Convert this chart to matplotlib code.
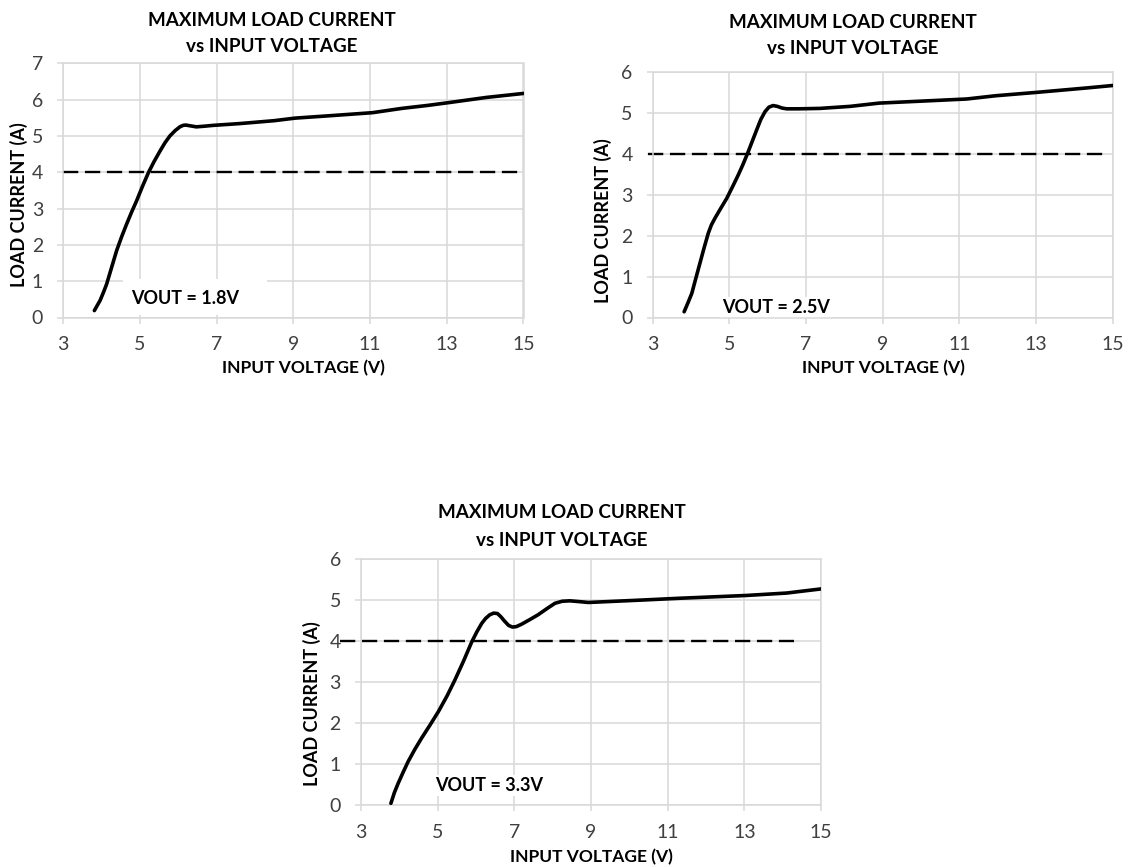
import matplotlib.pyplot as plt
from matplotlib.patches import Rectangle

plt.rcParams['font.family'] = ['Lato', 'DejaVu Sans']
plt.rcParams['lines.scale_dashes'] = False

W, H = 1129, 867
GRID = '#d9d9d9'

# max load current vs input voltage, one curve per output voltage
vin_18 = [3.81, 3.90, 3.96, 4.05, 4.13, 4.26, 4.39, 4.52, 4.65, 4.78, 4.91, 5.06,
          5.22, 5.37, 5.52, 5.65, 5.78, 5.92, 6.04, 6.12, 6.19, 6.30, 6.47, 6.70,
          6.90, 7.60, 8.50, 9.04, 10.0, 11.06, 11.84, 12.5, 13.07, 14.03, 15.0]
iload_18 = [0.19, 0.36, 0.47, 0.70, 0.92, 1.38, 1.84, 2.22, 2.57, 2.90, 3.21, 3.60,
            3.99, 4.30, 4.58, 4.81, 5.00, 5.15, 5.25, 5.29, 5.30, 5.28, 5.25, 5.27,
            5.29, 5.34, 5.42, 5.49, 5.56, 5.64, 5.76, 5.84, 5.92, 6.06, 6.17]

vin_25 = [3.82, 3.92, 4.02, 4.12, 4.23, 4.34, 4.45, 4.53, 4.62, 4.77, 4.93, 5.08,
          5.23, 5.35, 5.47, 5.59, 5.71, 5.82, 5.93, 6.03, 6.14, 6.25, 6.37, 6.49,
          6.80, 7.36, 8.15, 8.91, 10.05, 11.19, 11.95, 12.99, 14.32, 15.0]
iload_25 = [0.14, 0.36, 0.59, 0.94, 1.32, 1.70, 2.06, 2.26, 2.42, 2.66, 2.91, 3.19,
            3.48, 3.73, 4.00, 4.29, 4.58, 4.84, 5.03, 5.14, 5.18, 5.16, 5.12, 5.10,
            5.10, 5.11, 5.16, 5.24, 5.29, 5.34, 5.42, 5.50, 5.61, 5.67]

vin_33 = [3.78, 3.87, 3.97, 4.10, 4.23, 4.40, 4.58, 4.80, 5.02, 5.25, 5.45, 5.67,
          5.89, 6.02, 6.15, 6.25, 6.36, 6.46, 6.56, 6.65, 6.75, 6.85, 6.95, 7.05,
          7.19, 7.40, 7.62, 7.85, 8.06, 8.25, 8.45, 8.70, 8.93, 10.36, 11.25, 13.04,
          14.11, 14.64, 15.0]
iload_33 = [0.04, 0.30, 0.53, 0.80, 1.06, 1.35, 1.63, 1.95, 2.28, 2.67, 3.05, 3.50,
            3.98, 4.22, 4.43, 4.55, 4.64, 4.68, 4.67, 4.59, 4.48, 4.38, 4.34, 4.35,
            4.41, 4.52, 4.64, 4.79, 4.92, 4.97, 4.98, 4.96, 4.94, 5.00, 5.04, 5.11,
            5.17, 5.23, 5.27]

# 4 A rating line (start / end input voltage)
limit_a = 4
limit_18 = [3.0, 15.0]
limit_25 = [2.88, 14.74]
limit_33 = [2.45, 14.3]

vout_labels = ['VOUT = 1.8V', 'VOUT = 2.5V', 'VOUT = 3.3V']
ymax_list = [7, 6, 6]


def px_axes(fig, left, top, right, bottom):
    return fig.add_axes([left / W, 1 - bottom / H, (right - left) / W, (bottom - top) / H])


def fig_text(fig, x, y, s, **kw):
    fig.text(x / W, 1 - y / H, s, ha='center', va='center', **kw)


def draw_panel(fig, box, vin, iload, limit_x, ymax, label, label_xy,
               title_x, title_y, xlabel_xy, ylabel_xy):
    ax = px_axes(fig, *box)
    ax.set_xlim(3, 15)
    ax.set_ylim(0, ymax)
    ax.set_xticks(range(3, 16, 2))
    ax.set_yticks(range(0, ymax + 1))
    ax.set_axisbelow(True)
    ax.grid(True, color=GRID, lw=1.1)
    for s in ax.spines.values():
        s.set_color(GRID)
        s.set_linewidth(1.1)
    ax.tick_params(length=4.5, width=1.1, color=GRID, labelsize=14,
                   labelcolor='#404040')
    ax.tick_params(axis='x', pad=9)
    ax.tick_params(axis='y', pad=10)

    ax.plot(limit_x, [limit_a, limit_a], color='black', lw=1.7,
            dashes=(11, 4.8), clip_on=False, zorder=2)
    ax.plot(vin, iload, color='black', lw=2.6, solid_capstyle='round',
            solid_joinstyle='round', zorder=3)
    ax.text(label_xy[0], label_xy[1], label, fontsize=13, fontweight='bold',
            color='black', ha='left', va='center', zorder=2,
            bbox=dict(facecolor='white', edgecolor='none', pad=1.5))

    fig_text(fig, title_x, title_y, 'MAXIMUM LOAD CURRENT', fontsize=13.6, fontweight='bold')
    fig_text(fig, title_x, title_y + 27, 'vs INPUT VOLTAGE', fontsize=13.6, fontweight='bold')
    fig_text(fig, xlabel_xy[0], xlabel_xy[1], 'INPUT VOLTAGE (V)', fontsize=12.5, fontweight='bold')
    fig_text(fig, ylabel_xy[0], ylabel_xy[1], 'LOAD CURRENT (A)', fontsize=13,
             fontweight='bold', rotation=90)
    return ax


fig = plt.figure(figsize=(W / 100, H / 100), dpi=100)

ax1 = draw_panel(fig, (63.3, 63.3, 523.5, 317.5), vin_18, iload_18, limit_18,
                 ymax_list[0], vout_labels[0], (4.78, 0.51), 272, 20, (303, 368), (19, 205))
# text box in the first chart blanks out a wider strip of grid
ax1.add_patch(Rectangle((4.56, 0.06), 3.75, 0.99, facecolor='white', edgecolor='none', zorder=1))

draw_panel(fig, (652.7, 72, 1112.7, 317.5), vin_25, iload_25, limit_25,
           ymax_list[1], vout_labels[1], (4.80, 0.25), 853, 22, (883, 368), (603, 221))

draw_panel(fig, (361, 559, 821, 805), vin_33, iload_33, limit_33,
           ymax_list[2], vout_labels[2], (4.93, 0.47), 562, 513, (591, 857), (312, 704))

fig.savefig('out.png', dpi=100)
